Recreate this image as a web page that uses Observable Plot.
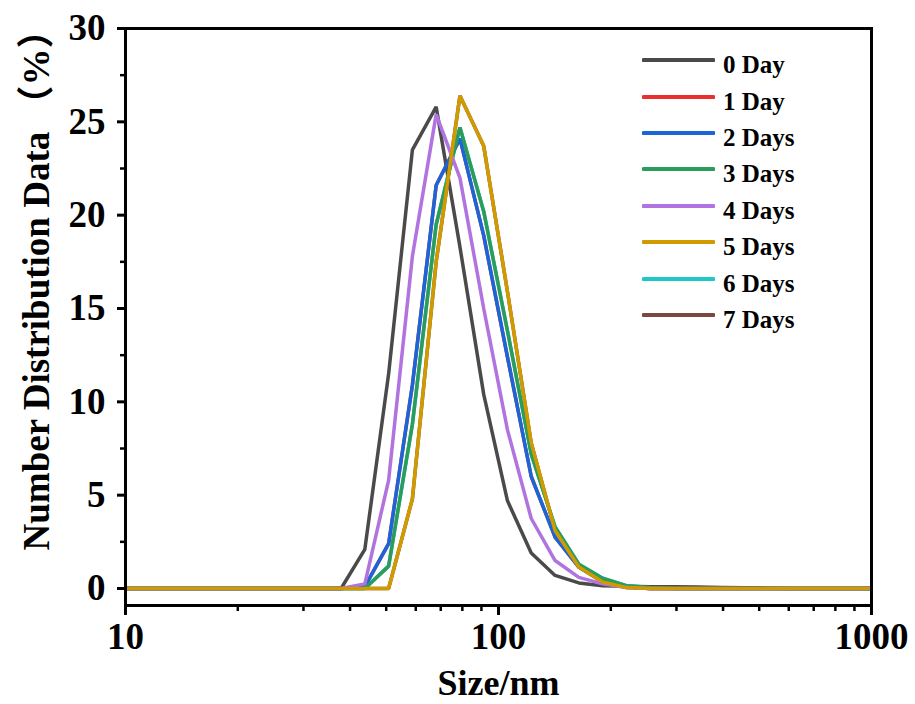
<!DOCTYPE html>
<html>
<head>
<meta charset="utf-8">
<script src="https://cdn.jsdelivr.net/npm/d3@7"></script>
<script src="https://cdn.jsdelivr.net/npm/@observablehq/plot@0.6"></script>
<style>
  html, body { margin: 0; padding: 0; background: #fff; }
  #wrap { position: relative; width: 915px; height: 704px; }
  #legend { position: absolute; left: 642px; top: 42px; font-family: "Liberation Serif", "Times New Roman", serif; font-weight: bold; font-size: 25px; color: #000; }
  #legend .row { display: flex; align-items: center; height: 36.4px; }
  #legend svg { margin-right: 8px; }
  #legend span { position: relative; top: 5px; }
</style>
</head>
<body>
<div id="wrap"><div id="chart"></div><div id="legend"></div></div>
<script>
const sizes = [8.721, 10.1, 11.7, 13.54, 15.69, 18.17, 21.04, 24.36, 28.21, 32.67, 37.84, 43.82, 50.75, 58.77, 68.06, 78.82, 91.28, 105.7, 122.4, 141.8, 164.2, 190.1, 220.2, 255.0, 295.3, 342.0, 396.1, 458.7, 531.2, 615.1, 712.4, 825.0, 955.4, 1106];

const day0 = [0,0,0,0,0,0,0,0,0,0,0, 2.1,11.5,23.5,25.8,18.3,10.4,4.7,1.9,0.7,0.3,0.15,0.12,0.1,0.1,0.08,0.06,0.04,0.02, 0,0,0,0,0];
const day1 = [0,0,0,0,0,0,0,0,0,0,0, 0.1,2.4,10.9,21.6,24.1,18.9,12.4,6.0,2.75,1.15,0.4,0.1, 0,0,0,0,0,0,0,0,0,0,0];
const day2 = [0,0,0,0,0,0,0,0,0,0,0, 0.1,2.4,10.9,21.6,24.1,18.9,12.4,6.0,2.75,1.15,0.4,0.1, 0,0,0,0,0,0,0,0,0,0,0];
const day3 = [0,0,0,0,0,0,0,0,0,0,0,0, 1.2,8.8,19.5,24.7,20.2,13.8,7.2,3.3,1.3,0.55,0.15,0.05, 0,0,0,0,0,0,0,0,0,0];
const day4 = [0,0,0,0,0,0,0,0,0,0,0, 0.25,5.8,17.8,25.4,22.0,15.0,8.5,3.75,1.5,0.6,0.25,0.05, 0,0,0,0,0,0,0,0,0,0,0];
const day5 = [0,0,0,0,0,0,0,0,0,0,0,0,0, 4.8,17.5,26.4,23.7,15.9,7.8,3.1,1.15,0.35,0.05, 0,0,0,0,0,0,0,0,0,0,0];
const day6 = [0,0,0,0,0,0,0,0,0,0,0,0, 1.2,8.8,19.5,24.7,20.2,13.8,7.2,3.3,1.3,0.55,0.15,0.05, 0,0,0,0,0,0,0,0,0,0];
const day7 = [0,0,0,0,0,0,0,0,0,0,0,0,0, 4.8,17.5,26.4,23.7,15.9,7.8,3.1,1.15,0.35,0.05, 0,0,0,0,0,0,0,0,0,0,0];

const seriesNames = ["0 Day", "1 Day", "2 Days", "3 Days", "4 Days", "5 Days", "6 Days", "7 Days"];
const seriesValues = [day0, day1, day2, day3, day4, day5, day6, day7];
const seriesColors = ["#4a4a4a", "#e8312f", "#1a66d9", "#2a9d5c", "#b073e0", "#d19b00", "#1ec8c8", "#7a4a40"];
// draw order: hidden series underneath
const drawOrder = [7, 6, 1, 0, 2, 3, 4, 5];

const xMajor = [10, 100, 1000];
const xMinor = [20, 30, 40, 50, 60, 70, 80, 90, 200, 300, 400, 500, 600, 700, 800, 900];
const yMajor = [0, 5, 10, 15, 20, 25, 30];
const yMinor = [2.5, 7.5, 12.5, 17.5, 22.5, 27.5];

const font = "'Liberation Serif', 'Times New Roman', serif";

const lineMarks = drawOrder.map(i => {
  const rows = sizes.map((s, k) => ({size: s, value: seriesValues[i][k]}));
  return Plot.line(rows, {x: "size", y: "value", stroke: seriesColors[i], strokeWidth: 3.5, strokeLinejoin: "miter", clip: true});
});

const chart = Plot.plot({
  width: 915,
  height: 704,
  marginLeft: 125,
  marginRight: 44,
  marginTop: 28,
  marginBottom: 99,
  style: {fontFamily: font, fontWeight: "bold", color: "#000", background: "#fff"},
  x: {type: "log", domain: [10, 1000]},
  y: {domain: [-0.91, 30]},
  marks: [
    ...lineMarks,
    Plot.axisX(xMinor, {tickSize: 6, strokeWidth: 2.5, text: null, label: null}),
    Plot.axisX(xMajor, {tickSize: 10, strokeWidth: 3, tickPadding: 7, tickFormat: d => String(d), fontSize: 37, fontWeight: "bold", label: null}),
    Plot.axisY(yMinor, {tickSize: 5, strokeWidth: 2.5, text: null, label: null}),
    Plot.axisY(yMajor, {tickSize: 8, strokeWidth: 3, tickPadding: 12, fontSize: 37, fontWeight: "bold", label: null}),
    Plot.frame({stroke: "#000", strokeWidth: 3}),
    Plot.text(["Size/nm"], {frameAnchor: "bottom", dy: 89, fontSize: 36, fontWeight: "bold", lineAnchor: "bottom", fill: "#000"}),
    Plot.text(["Number Distribution Data （%）"], {frameAnchor: "left", dx: -88, dy: -36, rotate: -90, textAnchor: "middle", lineAnchor: "middle", fontSize: 37, fontWeight: "bold", fill: "#000", fontFamily: "'Liberation Serif', 'Noto Sans CJK SC', serif"})
  ]
});
document.getElementById("chart").appendChild(chart);

const legend = document.getElementById("legend");
seriesNames.forEach((name, i) => {
  const row = document.createElement("div");
  row.className = "row";
  row.innerHTML = `<svg width="73" height="8"><line x1="1.5" y1="4" x2="71.5" y2="4" stroke="${seriesColors[i]}" stroke-width="4" stroke-linecap="round"/></svg><span>${name}</span>`;
  legend.appendChild(row);
});
</script>
</body>
</html>
